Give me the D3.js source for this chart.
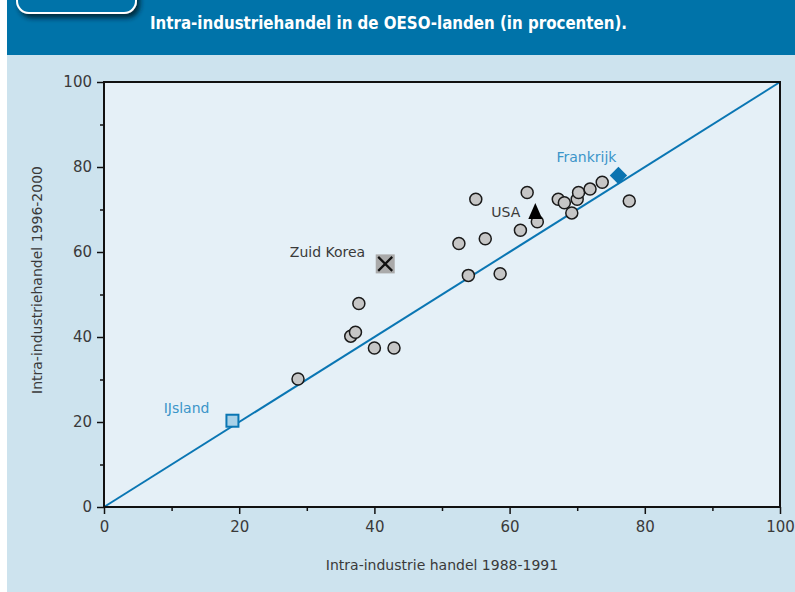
<!DOCTYPE html>
<html>
<head>
<meta charset="utf-8">
<script src="https://cdn.jsdelivr.net/npm/d3@7"></script>
<style>
  body { margin: 0; background: #fff; }
  svg { display: block; }
</style>
</head>
<body>
<svg id="chart"></svg>
<script>
// intra-industrie handel: 1988-1991 (x) tegen 1996-2000 (y)
const countryX = [28.7, 36.5, 37.2, 37.7, 40.0, 42.9, 52.5, 53.9, 55.0, 56.4, 58.6,
                  61.6, 62.6, 64.1, 67.2, 68.1, 69.2, 70.0, 70.2, 71.9, 73.7, 77.7];
const countryY = [30.1, 40.2, 41.1, 47.9, 37.4, 37.4, 62.0, 54.5, 72.4, 63.1, 54.9,
                  65.1, 74.0, 67.1, 72.4, 71.6, 69.2, 72.4, 74.0, 74.8, 76.4, 72.0];

// gemarkeerde landen
const highlightNames = ["IJsland", "Zuid Korea", "USA", "Frankrijk"];
const highlightX = [19.0, 41.6, 63.8, 76.1];
const highlightY = [20.3, 57.2, 69.2, 78.0];

const majorTicks = [0, 20, 40, 60, 80, 100];
const minorTicks = [10, 30, 50, 70, 90];

const titleText = "Intra-industriehandel in de OESO-landen (in procenten).";
const xLabel = "Intra-industrie handel 1988-1991";
const yLabel = "Intra-industriehandel 1996-2000";

const width = 795, height = 592;
const margin = {left: 104, right: 15, top: 82, bottom: 85};

const svg = d3.select("#chart").attr("width", width).attr("height", height);

// achtergronden
svg.append("rect").attr("x", 7).attr("y", 0).attr("width", width - 7).attr("height", height)
    .attr("fill", "#cde3ee");
svg.append("rect").attr("x", 7).attr("y", 0).attr("width", width - 7).attr("height", 55)
    .attr("fill", "#0073a9");

// schaduw voor het label-kader linksboven
const defs = svg.append("defs");
const shadow = defs.append("filter").attr("id", "shadow")
    .attr("x", "-20%").attr("y", "-20%").attr("width", "150%").attr("height", "180%");
shadow.append("feDropShadow").attr("dx", 3).attr("dy", 4).attr("stdDeviation", 2.5)
    .attr("flood-color", "#001a2a").attr("flood-opacity", 0.85);

svg.append("rect").attr("x", 17).attr("y", -20).attr("width", 119).attr("height", 33)
    .attr("rx", 12).attr("fill", "#0073a9").attr("stroke", "#fff").attr("stroke-width", 2)
    .attr("filter", "url(#shadow)");

svg.append("text").attr("x", 150).attr("y", 29)
    .attr("fill", "#fff")
    .style("font-family", "'Liberation Sans Narrow', 'DejaVu Sans Condensed', sans-serif")
    .style("font-weight", "bold").style("font-size", "17px")
    .attr("textLength", 477).attr("lengthAdjust", "spacingAndGlyphs")
    .text(titleText);

const x = d3.scaleLinear().domain([0, 100]).range([margin.left, width - margin.right]);
const y = d3.scaleLinear().domain([0, 100]).range([height - margin.bottom, margin.top]);

// plotvlak
svg.append("rect")
    .attr("x", x(0)).attr("y", y(100))
    .attr("width", x(100) - x(0)).attr("height", y(0) - y(100))
    .attr("fill", "#e5f0f7");

const fontFamily = "'DejaVu Sans', sans-serif";
const textColor = "#3a3a3a";

// assen
const xAxis = svg.append("g").attr("transform", `translate(0,${y(0)})`)
    .call(d3.axisBottom(x).tickValues(majorTicks).tickSize(7).tickPadding(7));
const xMinor = svg.append("g").attr("transform", `translate(0,${y(0)})`)
    .call(d3.axisBottom(x).tickValues(minorTicks).tickSize(4).tickFormat(""));
const yAxis = svg.append("g").attr("transform", `translate(${x(0)},0)`)
    .call(d3.axisLeft(y).tickValues(majorTicks).tickSize(7).tickPadding(5));
const yMinor = svg.append("g").attr("transform", `translate(${x(0)},0)`)
    .call(d3.axisLeft(y).tickValues(minorTicks).tickSize(4).tickFormat(""));

[xAxis, xMinor, yAxis, yMinor].forEach(g => {
    g.select(".domain").remove();
    g.selectAll("line").attr("stroke", "#111").attr("stroke-width", 1.5);
    g.selectAll("text").attr("fill", textColor)
        .style("font-family", fontFamily).style("font-size", "15px");
});

// diagonaal
svg.append("line")
    .attr("x1", x(0)).attr("y1", y(0)).attr("x2", x(100)).attr("y2", y(100))
    .attr("stroke", "#0a76b3").attr("stroke-width", 2);

// kader
svg.append("rect")
    .attr("x", x(0)).attr("y", y(100))
    .attr("width", x(100) - x(0)).attr("height", y(0) - y(100))
    .attr("fill", "none").attr("stroke", "#111").attr("stroke-width", 2);

// aslabels
svg.append("text").attr("x", (x(0) + x(100)) / 2).attr("y", 570)
    .attr("text-anchor", "middle").attr("fill", textColor)
    .style("font-family", fontFamily).style("font-size", "14px")
    .text(xLabel);
svg.append("text")
    .attr("transform", "translate(42,280) rotate(-90)")
    .attr("text-anchor", "middle").attr("fill", textColor)
    .style("font-family", fontFamily).style("font-size", "14px")
    .text(yLabel);

// landen
const points = countryX.map((v, i) => ({x: v, y: countryY[i]}));
svg.append("g").selectAll("circle")
    .data(points)
    .enter()
    .append("circle")
    .attr("cx", d => x(d.x))
    .attr("cy", d => y(d.y))
    .attr("r", 6)
    .attr("fill", "#c6c6c6")
    .attr("stroke", "#1a1a1a")
    .attr("stroke-width", 1.5);

const hl = highlightNames.map((n, i) => ({name: n, x: highlightX[i], y: highlightY[i]}));
const g = svg.append("g");

// IJsland
let d = hl[0];
g.append("rect").attr("x", x(d.x) - 6).attr("y", y(d.y) - 6).attr("width", 12).attr("height", 12)
    .attr("fill", "#a9d1e7").attr("stroke", "#0a76b3").attr("stroke-width", 2);
g.append("text").attr("x", x(d.x) - 23).attr("y", y(d.y) - 8).attr("text-anchor", "end")
    .attr("fill", "#3b95c9").style("font-family", fontFamily).style("font-size", "14px")
    .text(d.name);

// Zuid Korea
d = hl[1];
g.append("rect").attr("x", x(d.x) - 9.5).attr("y", y(d.y) - 9.5).attr("width", 19).attr("height", 19)
    .attr("fill", "#aaaaaa");
g.append("path")
    .attr("d", `M${x(d.x) - 7},${y(d.y) - 7}L${x(d.x) + 7},${y(d.y) + 7}M${x(d.x) + 7},${y(d.y) - 7}L${x(d.x) - 7},${y(d.y) + 7}`)
    .attr("stroke", "#111").attr("stroke-width", 2.2);
g.append("text").attr("x", x(d.x) - 20).attr("y", y(d.y) - 7).attr("text-anchor", "end")
    .attr("fill", textColor).style("font-family", fontFamily).style("font-size", "14px")
    .text(d.name);

// USA
d = hl[2];
g.append("path")
    .attr("d", `M${x(d.x)},${y(d.y) - 10}L${x(d.x) + 7},${y(d.y) + 6}L${x(d.x) - 7},${y(d.y) + 6}Z`)
    .attr("fill", "#000");
g.append("text").attr("x", x(d.x) - 15).attr("y", y(d.y) + 4).attr("text-anchor", "end")
    .attr("fill", textColor).style("font-family", fontFamily).style("font-size", "14px")
    .text(d.name);

// Frankrijk
d = hl[3];
g.append("path")
    .attr("d", d3.symbol().type(d3.symbolSquare).size(150)())
    .attr("transform", `translate(${x(d.x)},${y(d.y)}) rotate(45)`)
    .attr("fill", "#0a73b0");
g.append("text").attr("x", x(d.x) - 2).attr("y", y(d.y) - 14).attr("text-anchor", "end")
    .attr("fill", "#3b95c9").style("font-family", fontFamily).style("font-size", "14px")
    .text(d.name);
</script>
</body>
</html>
